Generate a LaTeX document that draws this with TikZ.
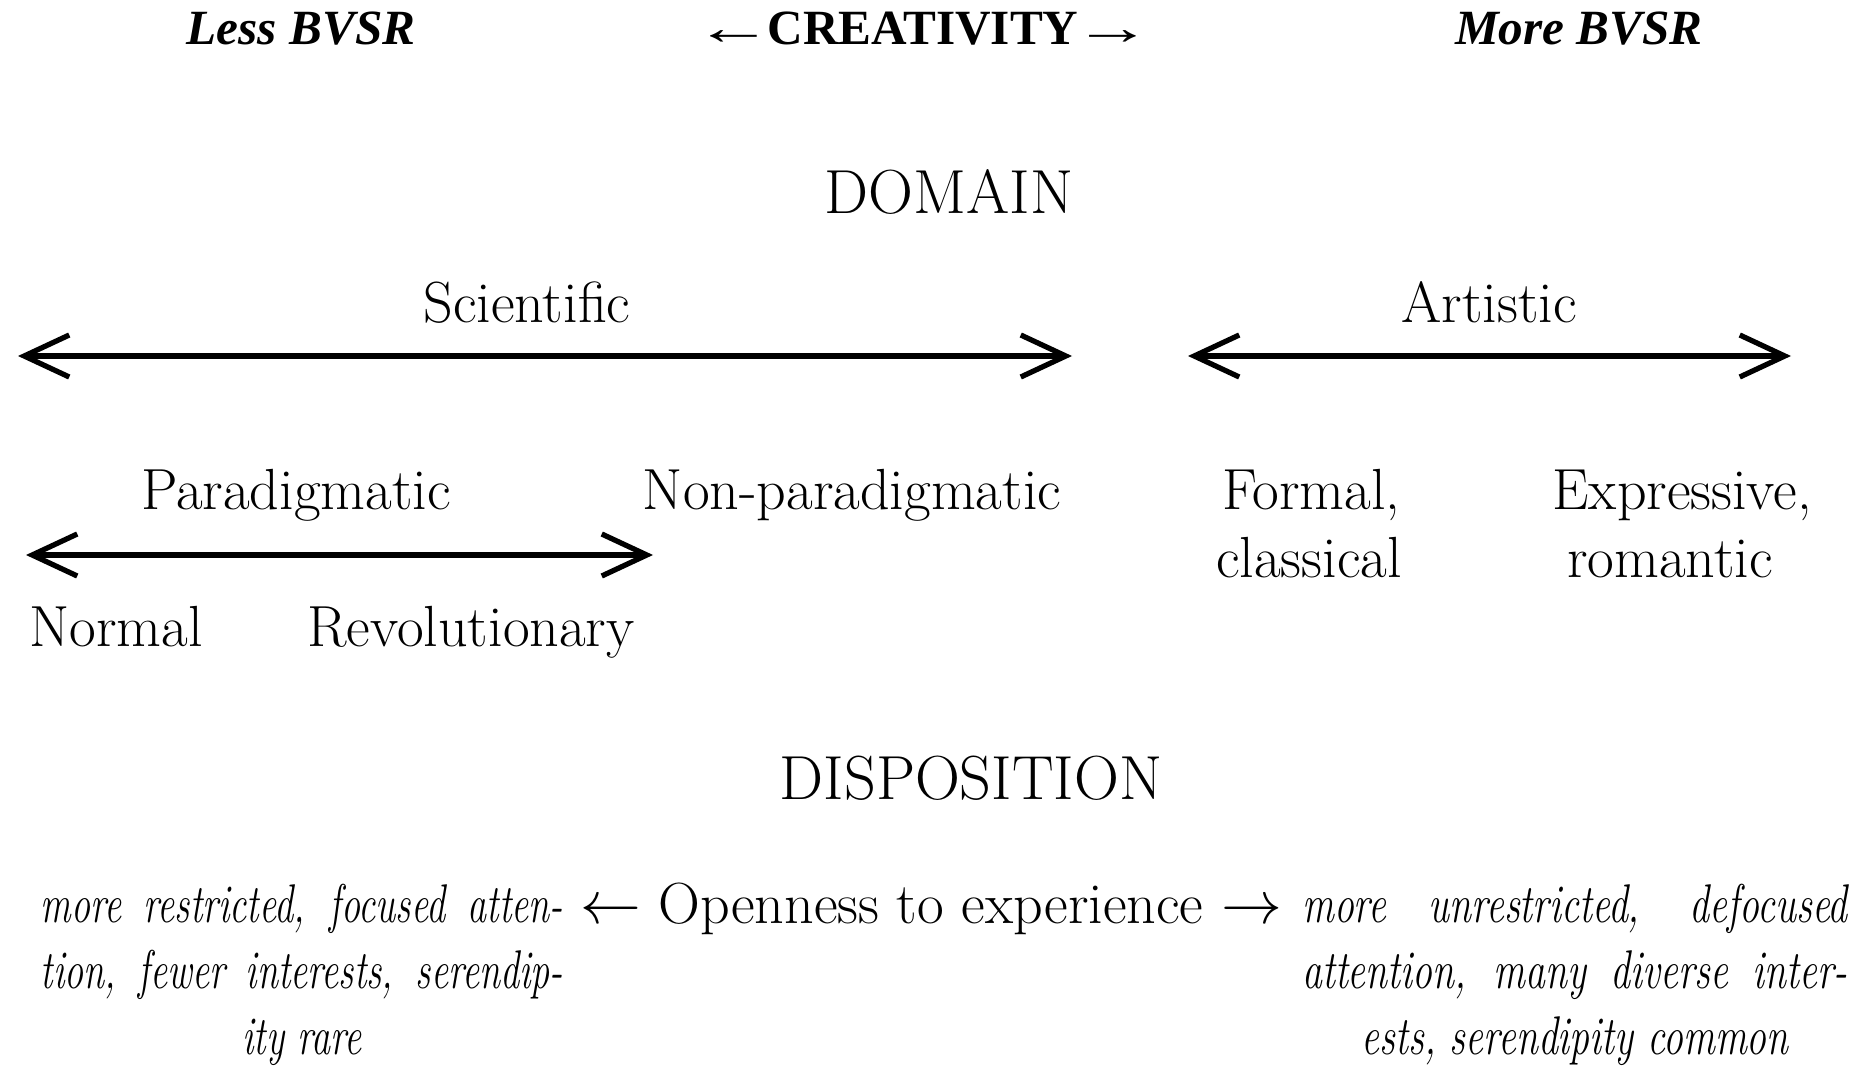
\documentclass[tikz,border=0pt]{standalone}
\usepackage{fontspec}
\usepackage{graphicx}
\usepackage{tikz}
\usetikzlibrary{arrows.meta}

\newfontfamily\headfont{Liberation Serif}
\newcommand{\jline}[2]{\makebox[#1][s]{#2}}
\newcommand{\widearrow}[1]{\scalebox{1.6}[1]{#1}}

\tikzset{
  headtext/.style={font=\headfont\bfseries\fontsize{14}{17}\selectfont, inner sep=0pt, anchor=base},
  headital/.style={headtext, font=\headfont\bfseries\itshape\fontsize{14}{17}\selectfont},
  captext/.style={font=\fontsize{17.7}{21}\selectfont, inner sep=0pt, anchor=base},
  domtext/.style={font=\fontsize{16.5}{19.3}\selectfont, inner sep=0pt, anchor=base},
  sidetext/.style={font=\itshape\fontsize{15.5}{18.9}\selectfont, inner sep=0pt, anchor=base},
  dblarrow/.style={line width=1.5pt,
    {Straight Barb[length=4.5mm,width=4.2mm]}-{Straight Barb[length=4.5mm,width=4.2mm]}}
}

\begin{document}
\begin{tikzpicture}[x=0.01cm, y=-0.01cm]
            \useasboundingbox (0,0) rectangle (1857,1070);

            % Top line
            \node[headital] (less) at (301,45) {Less BVSR};
            \node[headtext] (creativity) at (923,45) {\widearrow{←}\hspace{-1.5pt}CREATIVITY\hspace{-1.5pt}\widearrow{→}};
            \node[headital] (more) at (1579,45) {More BVSR};

            % Domain
            \node[captext] (domain) at (949,214) {DOMAIN};
            \node[domtext] (scientific) at (527,323) {Scientific};
            \node[domtext] (artistic) at (1489,323) {Artistic};

            \coordinate (sciL) at (18,356);
            \coordinate (sciR) at (1072,356);
            \coordinate (artL) at (1188,356);
            \coordinate (artR) at (1791,356);
            \draw[dblarrow] (sciL) -- (sciR);
            \draw[dblarrow] (artL) -- (artR);

            \node[domtext] (paradigmatic) at (296,509) {Paradigmatic};
            \node[domtext] (nonparadigmatic) at (852,509) {Non-paradigmatic};
            \node[domtext] (formal) at (1311,509) {Formal,};
            \node[domtext] (classical) at (1309,577) {classical};
            \node[domtext] (expressive) at (1682,509) {Expressive,};
            \node[domtext] (romantic) at (1670,577) {romantic};

            \coordinate (paraL) at (26,555);
            \coordinate (paraR) at (653,555);
            \draw[dblarrow] (paraL) -- (paraR);

            \node[domtext] (normal) at (116,646) {Normal};
            \node[domtext] (revolutionary) at (471,646) {Revolutionary};

            % Disposition
            \node[captext] (disposition) at (971,799) {DISPOSITION};
            \node[domtext] (openness) at (931,923) {$\leftarrow$ Openness to experience $\rightarrow$};

            \node[sidetext] (restricted) at (302,922) {\scalebox{0.70}[1]{%
              \begin{tabular}[t]{@{}c@{}}
                \jline{7.46cm}{more restricted, focused atten-}\\
                \jline{7.46cm}{tion, fewer interests, serendip-}\\
                ity rare
              \end{tabular}}};
            \node[sidetext] (unrestricted) at (1575,922) {\scalebox{0.73}[1]{%
              \begin{tabular}[t]{@{}c@{}}
                \jline{7.47cm}{more unrestricted, defocused}\\
                \jline{7.47cm}{attention, many diverse inter-}\\
                ests, serendipity common
              \end{tabular}}};

\end{tikzpicture}
\end{document}
